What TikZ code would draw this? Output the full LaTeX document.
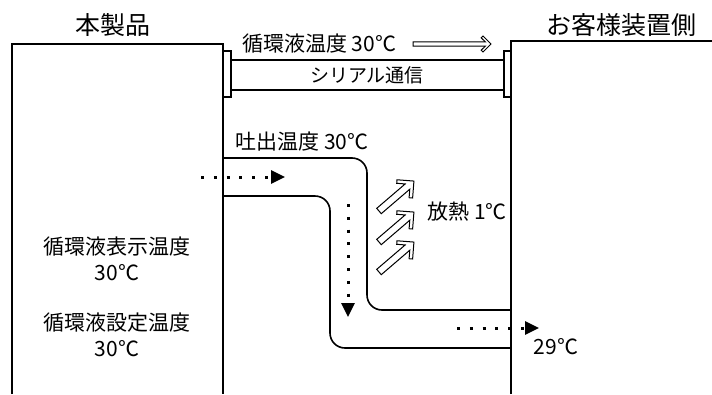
\documentclass[tikz,border=0pt]{standalone}
\usepackage{fontspec}
\setmainfont{Noto Sans CJK JP}
\usetikzlibrary{arrows.meta}
\begin{document}
\begin{tikzpicture}[
  x=1pt,y=-1pt,
  every node/.style={font=\fontsize{21}{24}\selectfont,inner sep=0pt},
  ttl/.style={font=\fontsize{25}{28}\selectfont},
  wall/.style={line width=1.6pt},
  pipe/.style={line width=1.6pt,rounded corners=15pt},
  dotarr/.style={line width=3pt,dash pattern=on 3pt off 9.8pt,
    -{Triangle[length=14pt,width=13pt]}},
  hollowarr/.style={line width=1pt,line join=miter,fill=white}
]
\useasboundingbox (0,0) rectangle (712,394);
% the two units
\draw[wall] (12,394) -- (12,44) -- (223,44) -- (223,394);
\draw[wall] (511,394) -- (511,41) -- (712,41);
\node[ttl] (prod) at (113,25) {本製品};
\node[ttl] (cust) at (621,25) {お客様装置側};
% serial cable
\draw[wall] (231,60) -- (504,60);
\draw[wall] (231,90) -- (504,90);
\draw[line width=1.3pt,fill=white] (223,51) rectangle (231,97);
\draw[line width=1.3pt,fill=white] (504,51) rectangle (511,97);
\node (serial) at (367,75) {\fontsize{19}{22}\selectfont シリアル通信};
\node[anchor=west] (sent) at (242,44) {循環液温度 30℃};
\coordinate (sa) at (413,44);
\draw[hollowarr,shift={(sa)}] (0,-2.2) -- (72.3,-2.2) -- (68.2,-6.2) -- (70,-8)
  -- (78,0) -- (70,8) -- (68.2,6.2) -- (72.3,2.2) -- (0,2.2) -- cycle;
% pipes
\draw[pipe] (223,158) -- (367,158) -- (367,310) -- (511,310);
\draw[pipe] (223,196) -- (330,196) -- (330,348) -- (511,348);
\node (out) at (302,142) {吐出温度 30℃};
\node (heat) at (467,212) {放熱 1℃};
\node (ret) at (556,347) {29℃};
% flow
\coordinate (f1) at (201,177);
\coordinate (f2) at (285,177);
\coordinate (f3) at (348,204);
\coordinate (f4) at (348,317);
\coordinate (f5) at (457,328);
\coordinate (f6) at (539,328);
\draw[dotarr] (f1) -- (f2);
\draw[dotarr] (f3) -- (f4);
\draw[dotarr] (f5) -- (f6);
% heat release
\foreach \i/\dy in {1/0,2/31,3/61} {
  \coordinate (h\i) at (379,211+\dy);
  \draw[hollowarr,shift={(h\i)},rotate=40.6] (0,-3.5) -- (37.5,-3.5) -- (31.5,-9.5)
    -- (34,-12) -- (46,0) -- (34,12) -- (31.5,9.5) -- (37.5,3.5) -- (0,3.5) -- cycle;
}
% readings
\node (disp) at (117,247) {循環液表示温度};
\node (dispv) at (117,273) {30℃};
\node (set) at (117,323) {循環液設定温度};
\node (setv) at (117,349) {30℃};
\end{tikzpicture}
\end{document}
